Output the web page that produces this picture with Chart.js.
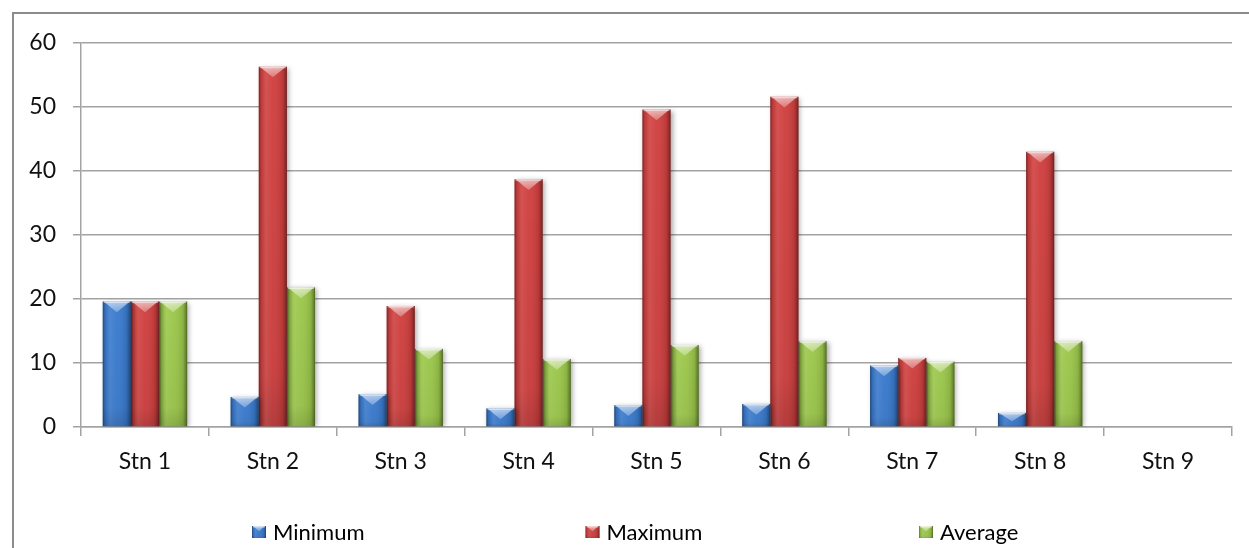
<!DOCTYPE html>
<html>
<head>
<meta charset="utf-8">
<title>Station values</title>
<script src="https://cdn.jsdelivr.net/npm/chart.js@4.4.1/dist/chart.umd.min.js"></script>
<style>
  html, body { margin: 0; padding: 0; background: #ffffff; overflow: hidden; }
  #frame {
    position: absolute; left: 12px; top: 12px;
    width: 1320px; height: 620px;
    border: 2px solid #8c8c8c; box-sizing: border-box;
  }
  #wrap { position: absolute; left: 0; top: 0; width: 1249px; height: 548px; }
</style>
</head>
<body>
<div id="frame"></div>
<div id="wrap"><canvas id="chart" width="1249" height="548"></canvas></div>
<script>
// Station labels along the x axis
const categories = ['Stn 1', 'Stn 2', 'Stn 3', 'Stn 4', 'Stn 5', 'Stn 6', 'Stn 7', 'Stn 8', 'Stn 9'];

// Series values per station (Stn 9 has no readings)
const minimum = [19.6, 4.7, 5.1, 2.9, 3.4, 3.6, 9.6, 2.2, null];
const maximum = [19.6, 56.3, 18.9, 38.7, 49.6, 51.6, 10.8, 43.0, null];
const average = [19.6, 21.8, 12.2, 10.6, 12.8, 13.4, 10.2, 13.4, null];

// Value axis ticks
const yTicks = [0, 10, 20, 30, 40, 50, 60];

const seriesNames = ['Minimum', 'Maximum', 'Average'];
const seriesColors = ['#3a7bcf', '#d0403f', '#9cc84b'];

const FONT = 'Lato, "Open Sans", "DejaVu Sans", sans-serif';

// Office-style bevel shading, drawn over each bar using the bar element geometry
function shadeBar(ctx, left, top, w, h) {
  if (h < 0.5 || w < 0.5) return;
  const right = left + w;
  ctx.save();
  // horizontal body shading: dark edges, light left-centre
  const g = ctx.createLinearGradient(left, 0, right, 0);
  g.addColorStop(0.00, 'rgba(0,0,0,0.42)');
  g.addColorStop(0.08, 'rgba(0,0,0,0.10)');
  g.addColorStop(0.25, 'rgba(255,255,255,0.10)');
  g.addColorStop(0.50, 'rgba(255,255,255,0.03)');
  g.addColorStop(0.85, 'rgba(0,0,0,0.10)');
  g.addColorStop(0.95, 'rgba(0,0,0,0.32)');
  g.addColorStop(1.00, 'rgba(0,0,0,0.50)');
  ctx.fillStyle = g;
  ctx.fillRect(left, top, w, h);

  // lower part slightly darker
  const gv = ctx.createLinearGradient(0, top, 0, top + h);
  gv.addColorStop(0, 'rgba(0,0,0,0)');
  gv.addColorStop(0.85, 'rgba(0,0,0,0.04)');
  gv.addColorStop(1, 'rgba(0,0,0,0.14)');
  ctx.fillStyle = gv;
  ctx.fillRect(left, top, w, h);

  // top bevel: light wedge pointing down
  const d = Math.min(w * 0.38, h * 0.62);
  const cx = left + w / 2;
  const gt = ctx.createLinearGradient(0, top, 0, top + d);
  gt.addColorStop(0, 'rgba(255,255,255,0.60)');
  gt.addColorStop(1, 'rgba(255,255,255,0.28)');
  ctx.fillStyle = gt;
  ctx.beginPath();
  ctx.moveTo(left + 1, top);
  ctx.lineTo(right - 1, top);
  ctx.lineTo(cx, top + d);
  ctx.closePath();
  ctx.fill();
  // bright rim along the top edge
  ctx.fillStyle = 'rgba(255,255,255,0.45)';
  ctx.fillRect(left + 1, top, w - 2, Math.min(1.5, h));
  ctx.restore();
}

const bevelPlugin = {
  id: 'bevel',
  beforeDatasetsDraw(chart) {
    const ctx = chart.ctx;
    ctx.save();
    ctx.shadowColor = 'rgba(0,0,0,0.35)';
    ctx.shadowBlur = 5;
    ctx.shadowOffsetX = 2;
    ctx.shadowOffsetY = 1;
  },
  afterDatasetsDraw(chart) {
    const ctx = chart.ctx;
    ctx.restore();
    chart.data.datasets.forEach((ds, i) => {
      const meta = chart.getDatasetMeta(i);
      meta.data.forEach((el, j) => {
        if (ds.data[j] == null) return;
        const p = el.getProps(['x', 'y', 'base', 'width'], true);
        const top = Math.min(p.y, p.base);
        const h = Math.abs(p.base - p.y);
        shadeBar(ctx, p.x - p.width / 2, top, p.width, h);
      });
    });
  }
};

// Legend spread across the bottom with evenly spaced entries
const spreadLegend = {
  id: 'spreadLegend',
  afterDraw(chart, args, opts) {
    const ctx = chart.ctx;
    const y = opts.y;
    ctx.save();
    ctx.font = opts.fontSize + 'px ' + FONT;
    ctx.textBaseline = 'middle';
    ctx.textAlign = 'left';
    chart.data.datasets.forEach((ds, i) => {
      const x = opts.start + i * opts.step;
      const bw = 14, bh = 12;
      const bx = x, by = y - bh / 2;
      ctx.fillStyle = ds.backgroundColor;
      ctx.fillRect(bx, by, bw, bh);
      shadeBar(ctx, bx, by, bw, bh);
      ctx.fillStyle = '#000000';
      ctx.fillText(ds.label, bx + bw + 7, y + 1);
    });
    ctx.restore();
  }
};

const datasets = [minimum, maximum, average].map((values, i) => ({
  label: seriesNames[i],
  data: values,
  backgroundColor: seriesColors[i],
  borderWidth: 0,
  categoryPercentage: 0.66,
  barPercentage: 1.0
}));

new Chart(document.getElementById('chart'), {
  type: 'bar',
  data: { labels: categories, datasets },
  plugins: [bevelPlugin, spreadLegend],
  options: {
    responsive: false,
    animation: false,
    events: [],
    layout: { padding: { top: 43, right: 17, left: 0, bottom: 0 } },
    plugins: {
      legend: { display: false },
      tooltip: { enabled: false },
      spreadLegend: { start: 252, step: 333.5, y: 532, fontSize: 22 }
    },
    scales: {
      x: {
        offset: true,
        grid: {
          offset: true,
          drawOnChartArea: false,
          drawTicks: true,
          tickLength: 9,
          color: '#a3a3a3',
          lineWidth: 1.5
        },
        border: { display: true, color: '#a3a3a3', width: 1.5 },
        ticks: {
          color: '#111111',
          padding: 12,
          maxRotation: 0,
          font: { family: FONT, size: 23 }
        },
        afterFit(scale) { scale.height = 121; }
      },
      y: {
        min: 0,
        max: 60,
        afterBuildTicks(scale) { scale.ticks = yTicks.map(v => ({ value: v })); },
        grid: {
          color: '#a3a3a3',
          lineWidth: 1.5,
          drawTicks: true,
          tickLength: 8
        },
        border: { display: true, color: '#a3a3a3', width: 1.5 },
        ticks: {
          color: '#111111',
          padding: 17,
          font: { family: FONT, size: 23 }
        },
        afterFit(scale) { scale.width = 81; }
      }
    }
  }
});
</script>
</body>
</html>
